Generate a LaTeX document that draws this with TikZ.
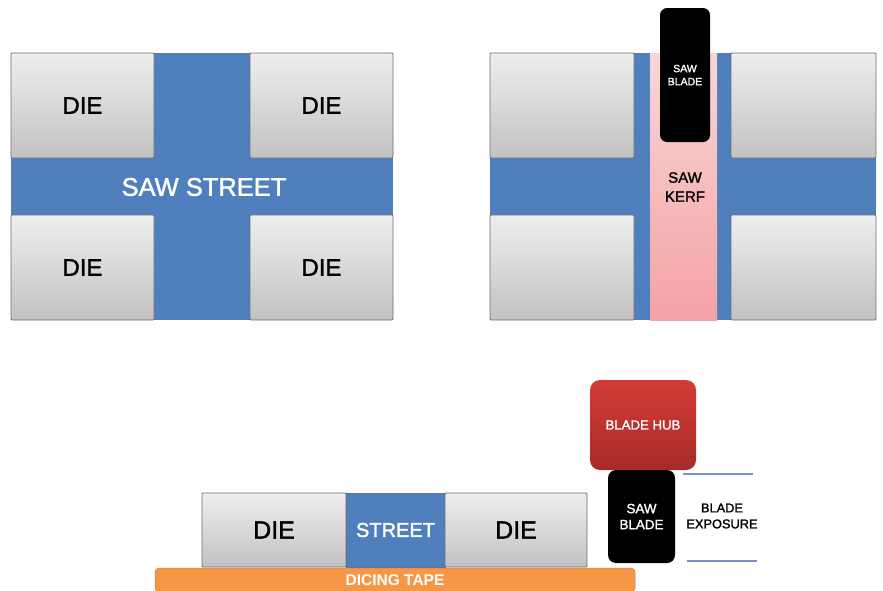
\documentclass[tikz,border=0pt]{standalone}
\usepackage{fontspec}
\setmainfont{Liberation Sans}
\newfontfamily\medfont[FakeBold=1.6]{Liberation Sans}
\definecolor{streetblue}{HTML}{4F80BD}
\definecolor{dieTop}{HTML}{EEEEEE}
\definecolor{dieBot}{HTML}{C2C2C2}
\definecolor{dieEdge}{HTML}{6E6E6E}
\definecolor{kerfTop}{HTML}{FAD6D6}
\definecolor{kerfBot}{HTML}{F4A2A5}
\definecolor{hubTop}{HTML}{D43B37}
\definecolor{hubBot}{HTML}{A72B28}
\definecolor{tapeOrange}{HTML}{F79646}
\definecolor{expLine}{HTML}{7393C4}
\begin{document}
\begin{tikzpicture}[x=1pt,y=-1pt,
  die/.style={draw=dieEdge, line width=0.9pt, top color=dieTop, bottom color=dieBot, inner sep=0pt, rounded corners=1pt, font=\medfont\fontsize{24}{28}\selectfont},
  bluebg/.style={fill=streetblue, draw=none, inner sep=0pt},
  blade/.style={fill=black, draw=none, rounded corners=7pt, inner sep=0pt, text=white, align=center},
  lbl/.style={inner sep=0pt, align=center}
]
\useasboundingbox (0,0) rectangle (883,590);

% ---------- Panel 1 ----------
\node[bluebg, minimum width=382pt, minimum height=267pt] (bg1) at (202,186.5) {};
\node[die, minimum width=143pt, minimum height=105pt] (d1) at (82.5,105.5) {DIE};
\node[die, minimum width=143pt, minimum height=105pt] (d2) at (321.5,105.5) {DIE};
\node[die, minimum width=143pt, minimum height=105pt] (d3) at (82.5,267.5) {DIE};
\node[die, minimum width=143pt, minimum height=105pt] (d4) at (321.5,267.5) {DIE};
\node[lbl, text=white, font=\medfont\fontsize{25.5}{28}\selectfont] (ss) at (204,187) {SAW STREET};

% ---------- Panel 2 ----------
\node[bluebg, minimum width=386pt, minimum height=267pt] (bg2) at (683,186.5) {};
\node[die, minimum width=144pt, minimum height=105pt] (e1) at (562,105.5) {};
\node[die, minimum width=145pt, minimum height=105pt] (e2) at (803.5,105.5) {};
\node[die, minimum width=144pt, minimum height=105pt] (e3) at (562,267.5) {};
\node[die, minimum width=145pt, minimum height=105pt] (e4) at (803.5,267.5) {};
\node[top color=kerfTop, bottom color=kerfBot, draw=none, inner sep=0pt, minimum width=67pt, minimum height=267pt] (kerf) at (683.5,186.5) {};
\node[lbl, font=\medfont\fontsize{15}{19}\selectfont] (kt) at (685,187) {SAW\\KERF};
\node[blade, minimum width=50pt, minimum height=134pt, font=\medfont\fontsize{10.5}{13}\selectfont] (b1) at (685,75) {SAW\\BLADE};

% ---------- Panel 3 ----------
\node[fill=tapeOrange, draw=tapeOrange!85!black, line width=0.5pt, rounded corners=4pt, inner sep=0pt, minimum width=480pt, minimum height=24pt, text=white, font=\bfseries\fontsize{15.5}{18}\selectfont] (tape) at (395,580) {DICING TAPE};
\node[die, minimum width=144pt, minimum height=74pt, font=\medfont\fontsize{25}{28}\selectfont] (f1) at (274,530) {DIE};
\node[bluebg, draw=dieEdge!60!streetblue, line width=0.9pt, minimum width=99pt, minimum height=74pt, text=white, font=\medfont\fontsize{20}{24}\selectfont] (st) at (395.5,530) {STREET};
\node[die, minimum width=142pt, minimum height=74pt, font=\medfont\fontsize{25}{28}\selectfont] (f2) at (516,530) {DIE};

% ---------- Panel 4 ----------
\node[top color=hubTop, bottom color=hubBot, draw=none, rounded corners=10pt, inner sep=0pt, minimum width=106pt, minimum height=90pt, text=white, font=\medfont\fontsize{13.2}{16}\selectfont] (hub) at (643,425) {BLADE HUB};
\node[blade, rounded corners=8pt, minimum width=67pt, minimum height=93pt, font=\medfont\fontsize{13.4}{16}\selectfont] (b2) at (641.5,516.5) {SAW\\BLADE};
\node[lbl, font=\medfont\fontsize{12.8}{16}\selectfont] (exp) at (722,516) {BLADE\\EXPOSURE};
\coordinate (l1a) at (683,474);
\coordinate (l1b) at (753,474);
\coordinate (l2a) at (687,561);
\coordinate (l2b) at (757,561);
\draw[expLine, line width=1.5pt] (l1a) -- (l1b);
\draw[expLine, line width=1.5pt] (l2a) -- (l2b);
\end{tikzpicture}
\end{document}
